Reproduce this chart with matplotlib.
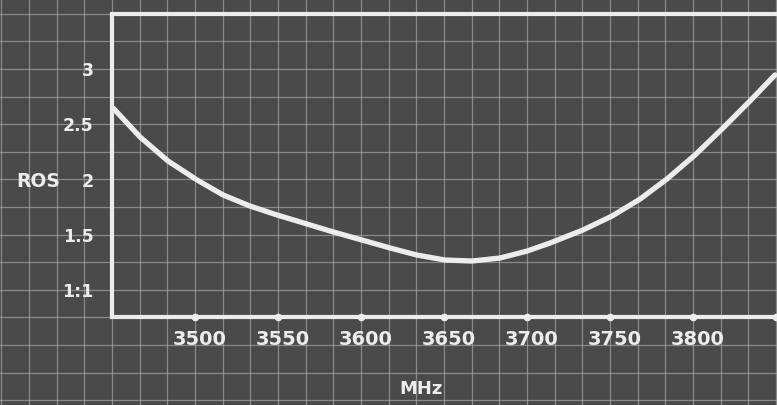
import numpy as np
import matplotlib
matplotlib.use("Agg")
import matplotlib.pyplot as plt

# Data
freq_mhz = [3450.6, 3466.9, 3483.7, 3501.2, 3516.9, 3533.1, 3549.4, 3567.5, 3581.3,
            3600.6, 3617.5, 3633.7, 3650.6, 3666.9, 3683.7, 3700.0, 3713.9, 3733.7,
            3751.2, 3768.1, 3784.3, 3801.2, 3818.1, 3834.3, 3849.4]
ros = [2.647, 2.384, 2.167, 1.995, 1.859, 1.759, 1.678, 1.596, 1.533,
       1.451, 1.379, 1.315, 1.270, 1.261, 1.288, 1.351, 1.424, 1.542,
       1.668, 1.822, 2.004, 2.221, 2.466, 2.710, 2.946]
x_ticks = [3500, 3550, 3600, 3650, 3700, 3750, 3800]
x_tick_labels = ["3500", "3550", "3600", "3650", "3700", "3750", "3800"]
y_ticks = [1.0, 1.5, 2.0, 2.5, 3.0]
y_tick_labels = ["1:1", "1.5", "2", "2.5", "3"]

BG = "#4a4a4a"
GRID = "#b4b4b4"
FG = "#ececec"

fig = plt.figure(figsize=(7.77, 4.05), dpi=100, facecolor=BG)
ax = fig.add_axes([0, 0, 1, 1])
ax.set_facecolor(BG)
x0, x1 = 3382.5, 3850.6
y0, y1 = -0.043, 3.625
ax.set_xlim(x0, x1)
ax.set_ylim(y0, y1)
ax.axis("off")

# grid paper
for gx in np.arange(3450 - 4 * 50 / 3, x1 + 1, 50 / 3):
    ax.axvline(gx, color=GRID, lw=0.9, alpha=0.6, zorder=1)
for gy in np.arange(0.0, y1, 0.25):
    ax.axhline(gy, color=GRID, lw=0.9, alpha=0.6, zorder=1)

# frame lines
ax.plot([3450, 3450], [0.75, 3.5], color=FG, lw=3, solid_capstyle="butt", zorder=3)
ax.plot([3450, x1 + 5], [0.75, 0.75], color=FG, lw=3, zorder=3)
ax.plot([3450, x1 + 5], [3.5, 3.5], color=FG, lw=3, zorder=3)

# tick dots
ax.plot(x_ticks + [3850], [0.75] * (len(x_ticks) + 1), "o", color=FG, ms=4.5, zorder=4)

# curve
ax.plot(freq_mhz, ros, color=FG, lw=3.8, solid_capstyle="round",
        solid_joinstyle="round", zorder=5)

font = dict(color=FG, fontweight="bold", family="DejaVu Sans")
for xt, lab in zip(x_ticks, x_tick_labels):
    ax.text(xt + 3, 0.55, lab, ha="center", va="center", fontsize=14, **font)
for yt, lab in zip(y_ticks, y_tick_labels):
    ax.text(3439, yt - 0.02, lab, ha="right", va="center", fontsize=12.5, **font)
ax.text(3392, 1.98, "ROS", ha="left", va="center", fontsize=13.5, **font)
ax.text(3636, 0.1, "MHz", ha="center", va="center", fontsize=13, **font)

fig.savefig("out.png", dpi=100, facecolor=BG)
